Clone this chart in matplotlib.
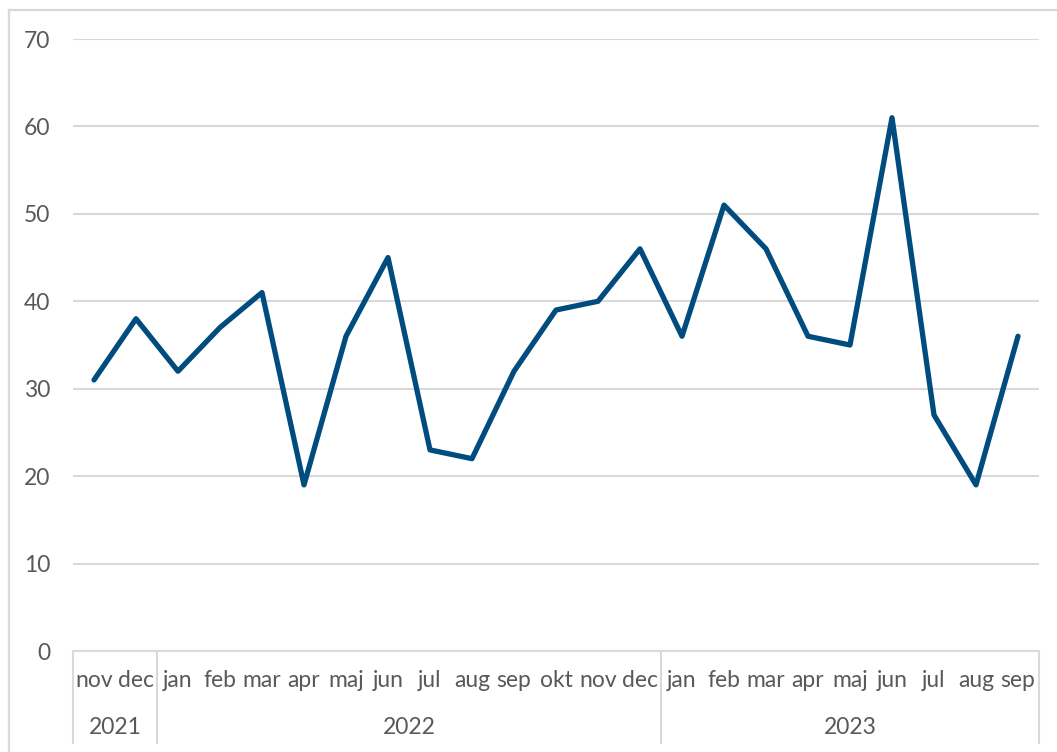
import matplotlib
matplotlib.use("Agg")
import matplotlib.pyplot as plt
from matplotlib.lines import Line2D

months = ["nov", "dec", "jan", "feb", "mar", "apr", "maj", "jun", "jul", "aug", "sep", "okt", "nov", "dec",
          "jan", "feb", "mar", "apr", "maj", "jun", "jul", "aug", "sep"]
years = ["2021", "2022", "2023"]
year_counts = [2, 12, 9]
values = [31, 38, 32, 37, 41, 19, 36, 45, 23, 22, 32, 39, 40, 46, 36, 51, 46, 36, 35, 61, 27, 19, 36]
yticks = [0, 10, 20, 30, 40, 50, 60, 70]

plt.rcParams['font.family'] = ['Lato', 'DejaVu Sans']
W, H = 1057, 752
fig = plt.figure(figsize=(W / 100, H / 100), dpi=100)
grid_c = '#D9D9D9'
text_c = '#595959'

# outer frame (only top/left visible)
fig.add_artist(Line2D([9 / W, 9 / W], [1 - 10 / H, 0], color=grid_c, lw=1.6, transform=fig.transFigure))
fig.add_artist(Line2D([9 / W, 1], [1 - 10 / H, 1 - 10 / H], color=grid_c, lw=1.6, transform=fig.transFigure))

left, right, top, bottom = 73, 1039, 39, 651
ax = fig.add_axes([left / W, 1 - bottom / H, (right - left) / W, (bottom - top) / H])
x = list(range(len(values)))
ax.plot(x, values, color='#004C7F', lw=3.8, solid_capstyle='round', solid_joinstyle='round', zorder=3)
ax.set_xlim(-0.5, len(values) - 0.5)
ax.set_ylim(0, 70)
ax.set_yticks(yticks)
ax.set_yticklabels([str(v) for v in yticks])
ax.grid(axis='y', color=grid_c, lw=1.5)
ax.set_axisbelow(True)
for s in ['top', 'right', 'left']:
    ax.spines[s].set_visible(False)
ax.spines['bottom'].set_color(grid_c)
ax.spines['bottom'].set_linewidth(1.5)
ax.tick_params(axis='y', length=0, pad=16.5, labelsize=16.5, labelcolor=text_c)
ax.tick_params(axis='x', length=0, pad=14, labelsize=16.5, labelcolor=text_c)
ax.set_xticks(x)
ax.set_xticklabels(months)

# year labels and separators
ph = bottom - top
y_year = -(728 - bottom) / ph
y_end = -(743 - bottom) / ph
trans = ax.get_xaxis_transform()
start = -0.5
bounds = [start]
for yr, n in zip(years, year_counts):
    end = start + n
    ax.text((start + end) / 2, y_year, yr, transform=trans, ha='center', va='center',
            fontsize=16.5, color=text_c)
    start = end
    bounds.append(end)
for b in bounds:
    ax.add_line(Line2D([b, b], [0, y_end], transform=trans, color=grid_c, lw=1.5, clip_on=False))

fig.savefig('out.png', dpi=100)
